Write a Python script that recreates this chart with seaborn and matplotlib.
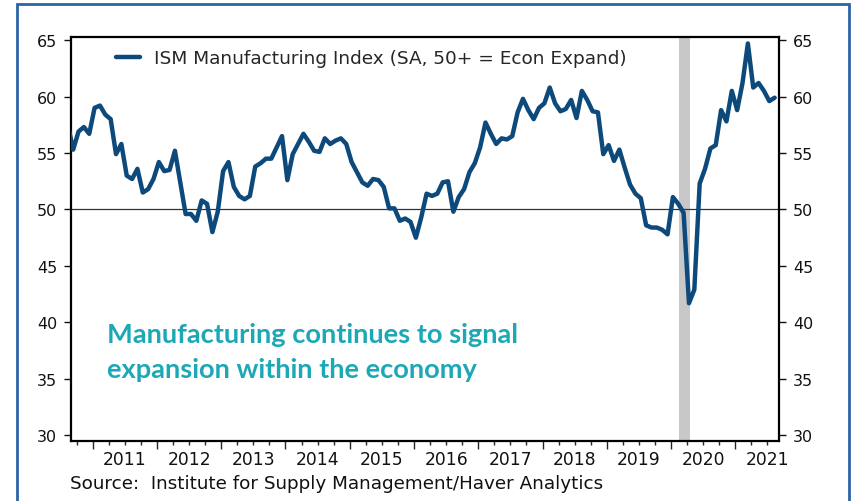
import matplotlib
matplotlib.use("Agg")
import matplotlib.pyplot as plt
from matplotlib.patches import Rectangle
import matplotlib.transforms as mtransforms
import numpy as np
import pandas as pd
import seaborn as sns

# ISM manufacturing index, monthly
ism_2010 = [57.5, 55.3, 56.9, 57.3, 56.7]  # Aug-Dec
ism_2011 = [59.0, 59.2, 58.4, 58.0, 54.9, 55.8, 53.0, 52.7, 53.6, 51.5, 51.8, 52.7]
ism_2012 = [54.2, 53.4, 53.5, 55.2, 52.4, 49.6, 49.6, 49.0, 50.8, 50.5, 48.0, 49.8]
ism_2013 = [53.4, 54.2, 52.0, 51.2, 50.9, 51.2, 53.8, 54.1, 54.5, 54.5, 55.5, 56.5]
ism_2014 = [52.6, 54.9, 55.8, 56.7, 56.0, 55.2, 55.1, 56.3, 55.8, 56.1, 56.3, 55.8]
ism_2015 = [54.2, 53.3, 52.4, 52.1, 52.7, 52.6, 52.0, 50.1, 50.1, 49.0, 49.2, 48.9]
ism_2016 = [47.5, 49.3, 51.4, 51.2, 51.4, 52.4, 52.5, 49.8, 51.1, 51.8, 53.3, 54.1]
ism_2017 = [55.5, 57.7, 56.7, 55.8, 56.3, 56.2, 56.5, 58.6, 59.8, 58.8, 58.0, 59.0]
ism_2018 = [59.4, 60.8, 59.4, 58.7, 58.9, 59.7, 58.1, 60.5, 59.7, 58.7, 58.6, 54.9]
ism_2019 = [55.7, 54.3, 55.3, 53.7, 52.2, 51.4, 51.0, 48.6, 48.4, 48.4, 48.2, 47.8]
ism_2020 = [51.1, 50.5, 49.7, 41.7, 42.9, 52.3, 53.6, 55.4, 55.7, 58.8, 57.8, 60.5]
ism_2021 = [58.8, 61.2, 64.7, 60.8, 61.2, 60.5, 59.6, 59.9]  # Jan-Aug

years = list(range(2011, 2022))
year_labels = [str(y) for y in years]
recession = (2020.13, 2020.295)

series_name = 'ISM Manufacturing Index (SA, 50+ = Econ Expand)'
note_lines = ['Manufacturing continues to signal', 'expansion within the economy']
source = 'Source:  Institute for Supply Management/Haver Analytics'

values = (ism_2010 + ism_2011 + ism_2012 + ism_2013 + ism_2014 + ism_2015 +
          ism_2016 + ism_2017 + ism_2018 + ism_2019 + ism_2020 + ism_2021)
months = pd.date_range('2010-08-01', periods=len(values), freq='MS')
df = pd.DataFrame({'t': months.year + (months.month - 0.65) / 12, 'ism': values})

line_color = '#0d4a7b'
frame_color = '#2e64a6'
teal = '#1ca9b5'

sns.set_theme(style='white')
plt.rcParams['font.family'] = ['DejaVu Sans']

W, H = 852, 502
fig = plt.figure(figsize=(W / 100, H / 100), dpi=100)
ax = fig.add_axes([71 / W, 1 - 442 / H, (779.3 - 71) / W, (442 - 37.7) / H])

ax.axvspan(*recession, color='#c8c8c8', lw=0, zorder=1)
ax.axhline(50, color='#333333', lw=0.9, zorder=2)
sns.lineplot(data=df, x='t', y='ism', ax=ax, color=line_color, lw=3.2,
             label=series_name, zorder=3)

ax.set_xlim(2010.662, 2021.685)
ax.set_ylim(29.5, 65.3)
ax.set_xlabel('')
ax.set_ylabel('')

for s in ax.spines.values():
    s.set_visible(True)
    s.set_color('black')
    s.set_linewidth(1.6)

ax.set_yticks(range(30, 66, 5))
ax.tick_params(axis='y', which='major', left=True, right=True, labelleft=True,
               labelright=True, direction='out', length=5, width=1,
               pad=5, labelsize=11.5, colors='#111111')

ax.set_xticks(years)
ax.set_xticklabels([''] * len(years))
quarters = [y + q / 4 for y in range(2010, 2022) for q in (1, 2, 3)]
ax.set_xticks([q for q in quarters if 2010.662 < q < 2021.685], minor=True)
ax.tick_params(axis='x', which='major', bottom=True, direction='out', length=6, width=1)
ax.tick_params(axis='x', which='minor', bottom=True, direction='out', length=3, width=1)

trans = mtransforms.blended_transform_factory(ax.transData, fig.transFigure)
for y, lab in zip(years, year_labels):
    ax.text(y + 0.5, 1 - 460 / H, lab, transform=trans, ha='center', va='center',
            fontsize=12.3, color='#111111', clip_on=False)

ax.legend(loc='upper left', bbox_to_anchor=(116 / W, 1 - 50 / H),
          bbox_transform=fig.transFigure, frameon=False, fontsize=13.3,
          handlelength=1.3, handletextpad=0.75, borderpad=0, borderaxespad=0)

fig.text(107 / W, 1 - 335 / H, note_lines[0], color=teal, fontsize=19.6,
         fontweight='bold', family='Lato', va='center')
fig.text(107 / W, 1 - 370 / H, note_lines[1], color=teal, fontsize=19.6,
         fontweight='bold', family='Lato', va='center')

fig.text(70 / W, 1 - 484 / H, source, fontsize=13.2, color='#111111', va='center')

fig.add_artist(Rectangle((16.7 / W, -0.1), (848.7 - 16.7) / W, 1.1 - 5 / H,
                         transform=fig.transFigure, fill=False,
                         edgecolor=frame_color, lw=2))

fig.savefig('out.png', dpi=100, facecolor='white')
